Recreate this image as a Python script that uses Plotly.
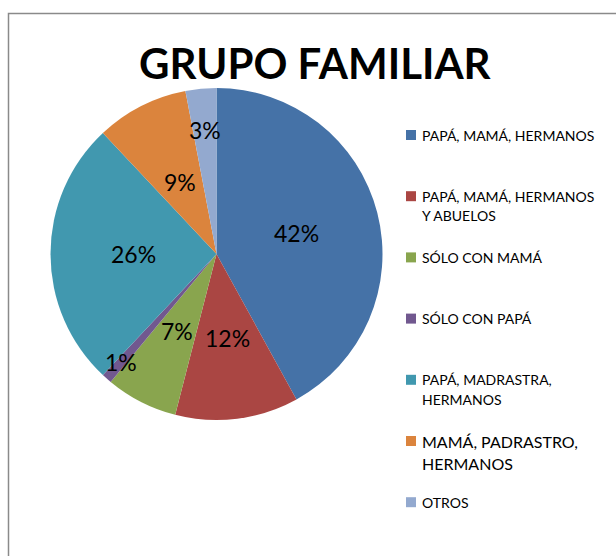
import math
import plotly.graph_objects as go

# ---- data ----
labels = [
    "PAPÁ, MAMÁ, HERMANOS",
    "PAPÁ, MAMÁ, HERMANOS<br>Y ABUELOS",
    "SÓLO CON MAMÁ",
    "SÓLO CON PAPÁ",
    "PAPÁ, MADRASTRA,<br>HERMANOS",
    "MAMÁ, PADRASTRO,<br>HERMANOS",
    "OTROS",
]
values = [42, 12, 7, 1, 26, 9, 3]
colors = ["#4572A7", "#AA4643", "#89A54E", "#71588F", "#4198AF", "#DB843D", "#93A9CF"]
title_text = "GRUPO FAMILIAR"

# ---- layout constants ----
W, H = 616, 556
cx, cy, R = 216.5, 254, 166
label_r = [0.50, 0.51, 0.52, 0.87, 0.50, 0.49, 0.75]   # label distance (fraction of radius)
legend_fs = [14, 14, 14, 14, 14, 16, 14]
FONT = "Lato"


def px(x):
    return x / W


def py(y):
    return 1 - y / H


fig = go.Figure(
    go.Pie(
        labels=labels,
        values=values,
        sort=False,
        direction="clockwise",
        rotation=0,
        marker=dict(colors=colors, line=dict(width=0)),
        textinfo="none",
        showlegend=False,
        domain=dict(x=[px(cx - R), px(cx + R)], y=[py(cy + R), py(cy - R)]),
    )
)

annotations = []
shapes = []

# percentage labels, placed at the middle angle of each slice
total = sum(values)
cum = 0
for v, rf in zip(values, label_r):
    mid = (cum + v / 2) / total * 2 * math.pi
    cum += v
    x = cx + rf * R * math.sin(mid)
    y = cy - rf * R * math.cos(mid)
    annotations.append(dict(
        x=px(x), y=py(y), xref="paper", yref="paper",
        text=f"{round(v / total * 100)}%", showarrow=False,
        xanchor="center", yanchor="middle",
        font=dict(family=FONT, size=23, color="#000000"),
    ))

# custom legend
leg_x, leg_y0, leg_step, sq = 406, 135, 61.2, 10
for i, (lab, col, fs) in enumerate(zip(labels, colors, legend_fs)):
    yc = leg_y0 + i * leg_step
    shapes.append(dict(
        type="rect", xref="paper", yref="paper",
        x0=px(leg_x), x1=px(leg_x + sq), y0=py(yc + sq / 2), y1=py(yc - sq / 2),
        fillcolor=col, line=dict(width=0),
    ))
    for j, line in enumerate(lab.split("<br>")):
        annotations.append(dict(
            x=px(leg_x + 14), y=py(yc + j * fs * 1.38), xref="paper", yref="paper",
            text=line, showarrow=False, xanchor="left", yanchor="middle",
            font=dict(family=FONT, size=fs, color="#000000"),
        ))

# title
annotations.append(dict(
    x=px(315), y=py(63), xref="paper", yref="paper",
    text=title_text, showarrow=False, xanchor="center", yanchor="middle",
    font=dict(family=FONT, size=42, color="#000000", weight="bold"),
))

# chart frame (partially visible)
shapes.append(dict(
    type="path", xref="paper", yref="paper",
    path=f"M {px(8.5)} {py(H + 20)} L {px(8.5)} {py(13.5)} L {px(W + 20)} {py(13.5)}",
    line=dict(color="#8a8a8a", width=1.5),
))

fig.update_layout(
    width=W, height=H,
    margin=dict(l=0, r=0, t=0, b=0),
    paper_bgcolor="white", plot_bgcolor="white",
    annotations=annotations, shapes=shapes,
    showlegend=False,
)

fig.write_html("out.html", config={"displayModeBar": False})

with open("out.html", "r", encoding="utf-8") as f:
    html = f.read()
html = html.replace("<head>", "<head><style>html,body{margin:0;padding:0;overflow:hidden;}</style>", 1)
with open("out.html", "w", encoding="utf-8") as f:
    f.write(html)
